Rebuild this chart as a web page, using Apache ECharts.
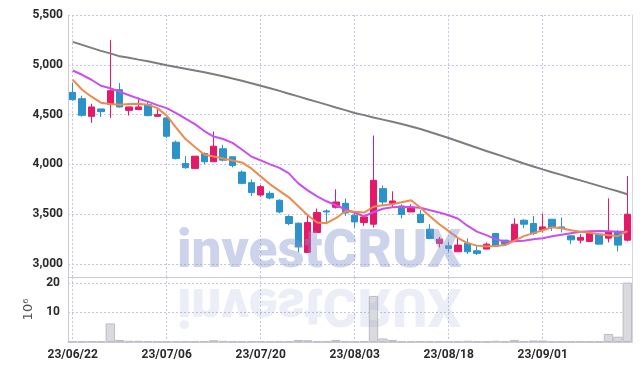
<!DOCTYPE html>
<html><head><meta charset="utf-8">
<script src="https://cdn.jsdelivr.net/npm/echarts@6/dist/echarts.min.js"></script>
<style>html,body{margin:0;padding:0;background:#fff}#c{width:642px;height:371px}</style>
</head><body><div id="c"></div>
<script>
const dates = ['23/06/22','23/06/23','23/06/26','23/06/27','23/06/28','23/06/29','23/06/30',
'23/07/03','23/07/04','23/07/05','23/07/06','23/07/07','23/07/10','23/07/11','23/07/12','23/07/13','23/07/14',
'23/07/17','23/07/18','23/07/19','23/07/20','23/07/21','23/07/24','23/07/25','23/07/26','23/07/27','23/07/28','23/07/31',
'23/08/01','23/08/02','23/08/03','23/08/04','23/08/07','23/08/08','23/08/09','23/08/10','23/08/11','23/08/14','23/08/16',
'23/08/17','23/08/18','23/08/21','23/08/22','23/08/23','23/08/24','23/08/25','23/08/28','23/08/29','23/08/30','23/08/31',
'23/09/01','23/09/04','23/09/05','23/09/06','23/09/07','23/09/08','23/09/11','23/09/12','23/09/13','23/09/14'];
const opens  = [4723,4660,4483,4557,4603,4750,4543,4550,4600,4483, 4467,4223,4010,3960,4110,4027,4157,4077,3923,3817,
                3693,3710,3640,3477,3410,3117,3317,3533,3570,3610, 3490,3417,3400,3757,3610,3583,3523,3500,3350,3207,
                3183,3123,3210,3133,3150,3307,3240,3227,3440,3407, 3343,3450,3373,3283,3240,3227,3300,3260,3327,3240];
const closes = [4650,4493,4577,4530,4740,4577,4577,4577,4490,4500, 4283,4060,3967,4083,4027,4183,4043,3990,3810,3717,
                3777,3663,3523,3407,3173,3417,3517,3523,3623,3513, 3423,3473,3840,3623,3633,3497,3573,3417,3257,3250,
                3157,3190,3123,3107,3200,3180,3200,3400,3400,3307, 3373,3367,3357,3243,3267,3310,3200,3327,3190,3500];
const lows   = [4640,4480,4417,4477,4467,4570,4490,4550,4483,4483, 4267,4050,3957,3960,4000,4027,4030,3970,3800,3683,
                3677,3650,3510,3390,3117,3117,3317,3417,3557,3483, 3367,3383,3367,3583,3567,3457,3523,3417,3250,3167,
                3117,3123,3100,3090,3150,3170,3183,3227,3360,3290, 3317,3333,3317,3200,3207,3227,3200,3217,3127,3227];
const highs  = [4823,4690,4610,4557,5250,4817,4580,4673,4633,4570, 4473,4240,4083,4083,4120,4330,4197,4077,3940,3850,
                3793,3730,3650,3490,3417,3500,3557,3550,3750,3657, 3510,3480,4290,3790,3730,3600,3600,3543,3400,3273,
                3223,3267,3257,3183,3217,3307,3240,3460,3450,3483, 3507,3450,3467,3290,3300,3310,3310,3660,3340,3883];
const ma5    = [4850,4750,4680,4620,4607,4600,4607,4610,4600,4565, 4490,4370,4255,4175,4100,4080,4060,4040,4020,3960,
                3880,3800,3735,3670,3580,3490,3417,3410,3460,3530, 3525,3517,3575,3590,3600,3620,3640,3565,3480,3400,
                3330,3260,3210,3185,3175,3180,3190,3235,3280,3310, 3340,3370,3360,3340,3325,3315,3300,3290,3280,3330];
const ma20   = [4943,4900,4850,4790,4765,4730,4695,4660,4630,4595, 4565,4515,4460,4405,4335,4280,4255,4217,4150,4080,
                4040,4000,3965,3910,3810,3740,3680,3630,3590,3550, 3515,3480,3520,3555,3570,3575,3570,3565,3540,3517,
                3490,3455,3385,3325,3290,3250,3223,3230,3235,3250, 3260,3280,3295,3310,3325,3330,3333,3330,3323,3323];
const ma120  = [5230,5200,5170,5140,5115,5085,5070,5052,5035,5015, 4995,4978,4960,4942,4925,4905,4885,4862,4840,4815,
                4790,4765,4738,4710,4683,4655,4628,4600,4572,4545, 4517,4495,4472,4450,4428,4405,4380,4355,4325,4295,
                4265,4233,4200,4168,4135,4105,4073,4042,4010,3980, 3950,3922,3895,3867,3840,3812,3785,3757,3730,3700];
const volumes = [0.3,0.3,0.3,0.3,6.3,0.7,0.4,0.4,0.3,0.2, 0.3,0.3,0.3,0.2,0.3,0.6,0.4,0.3,0.3,0.3,
                 0.3,0.3,0.3,0.3,0.7,0.6,0.3,0.3,0.7,0.3, 0.3,0.3,15.6,1.2,0.7,0.3,0.3,0.3,0.3,0.3,
                 0.2,0.3,0.4,0.2,0.2,0.4,0.2,0.7,0.3,0.5, 0.5,0.2,0.2,0.2,0.2,0.2,0.2,2.7,1.8,20.1];
const priceTicks = [3000,3500,4000,4500,5000,5500];
const volTicks = [10,20];

const candles = dates.map((d,i)=>[opens[i],closes[i],lows[i],highs[i]]);
const RED='#e5196a', BLUE='#2b93c9';
const gridCol='#c4c8dc', axisCol='#c8cad8';
const labelFont="'Roboto',sans-serif";
const fmt = v => v.toLocaleString('en-US');

const splitX = {show:true, interval:9, alignWithLabel:true, lineStyle:{color:gridCol, type:[2,2], width:1}};
const chart = echarts.init(document.getElementById('c'), null, {renderer:'canvas'});
chart.setOption({
  animation:false,
  grid:[{left:68,right:10,top:15,height:262},{left:68,right:10,top:277,height:65}],
  xAxis:[
    {type:'category',gridIndex:0,data:dates,boundaryGap:true,
     axisLine:{show:true,lineStyle:{color:axisCol}},axisTick:{show:false},axisLabel:{show:false},splitLine:splitX},
    {type:'category',gridIndex:1,data:dates,boundaryGap:true,
     axisLine:{show:true,lineStyle:{color:axisCol}},axisTick:{show:false},
     axisLabel:{interval:9,color:'#2a2a2a',fontFamily:labelFont,fontWeight:'bold',fontSize:12,margin:7},
     splitLine:splitX}
  ],
  yAxis:[
    {type:'value',gridIndex:0,min:2870,max:5500,splitNumber:5,
     axisLine:{show:true,lineStyle:{color:axisCol}},axisTick:{show:false},
     axisLabel:{showMinLabel:false,color:'#2a2a2a',fontFamily:labelFont,fontWeight:'bold',fontSize:12,margin:5,
       formatter:v=>priceTicks.includes(v)?fmt(v):''},
     splitLine:{show:true,lineStyle:{color:gridCol,type:[2,2]}}},
    {type:'value',gridIndex:1,min:0,max:22,interval:10,
     axisLine:{show:true,lineStyle:{color:axisCol}},axisTick:{show:false},
     name:'10\u2076',nameLocation:'middle',nameRotate:90,nameGap:24,
     nameTextStyle:{color:'#555',fontSize:13,fontFamily:'DejaVu Sans'},
     axisLabel:{color:'#2a2a2a',fontFamily:labelFont,fontWeight:'bold',fontSize:12,margin:8,
       formatter:v=>volTicks.includes(v)?String(v):''},
     splitLine:{show:true,lineStyle:{color:gridCol,type:[2,2]}}},
    {type:'value',gridIndex:0,position:'right',min:2870,max:5500,axisLine:{show:true,lineStyle:{color:'#d4d6e2'}},
     axisTick:{show:false},axisLabel:{show:false},splitLine:{show:false}},
    {type:'value',gridIndex:1,position:'right',min:0,max:22,axisLine:{show:true,lineStyle:{color:'#d4d6e2'}},
     axisTick:{show:false},axisLabel:{show:false},splitLine:{show:false}}
  ],
  series:[
    {type:'candlestick',xAxisIndex:0,yAxisIndex:0,data:candles,barWidth:7,
     itemStyle:{color:RED,color0:BLUE,borderColor:RED,borderColor0:BLUE,borderWidth:1}},
    {type:'line',xAxisIndex:0,yAxisIndex:0,data:ma120,showSymbol:false,lineStyle:{color:'#7d7d7d',width:2},z:3},
    {type:'line',xAxisIndex:0,yAxisIndex:0,data:ma20,showSymbol:false,lineStyle:{color:'#c94ff0',width:2},z:3},
    {type:'line',xAxisIndex:0,yAxisIndex:0,data:ma5,showSymbol:false,lineStyle:{color:'#ef8a4f',width:2},z:3},
    {type:'bar',xAxisIndex:1,yAxisIndex:1,data:volumes,barWidth:'100%',
     itemStyle:{color:'#d9d9df',borderColor:'#bdbdc6',borderWidth:1}}
  ],
  graphic:[
    {type:'text',x:177,y:280,z:100,silent:true,
     style:{text:'investCRUX',fontSize:53,fontWeight:900,fontFamily:'Roboto',fill:'rgba(135,150,205,0.42)',verticalAlign:'bottom'}},
    {type:'text',x:177,y:276,scaleY:-1,z:100,silent:true,
     style:{text:'investCRUX',fontSize:53,fontWeight:900,fontFamily:'Roboto',fill:'rgba(135,150,205,0.16)',verticalAlign:'bottom'}}
  ]
});
</script></body></html>
